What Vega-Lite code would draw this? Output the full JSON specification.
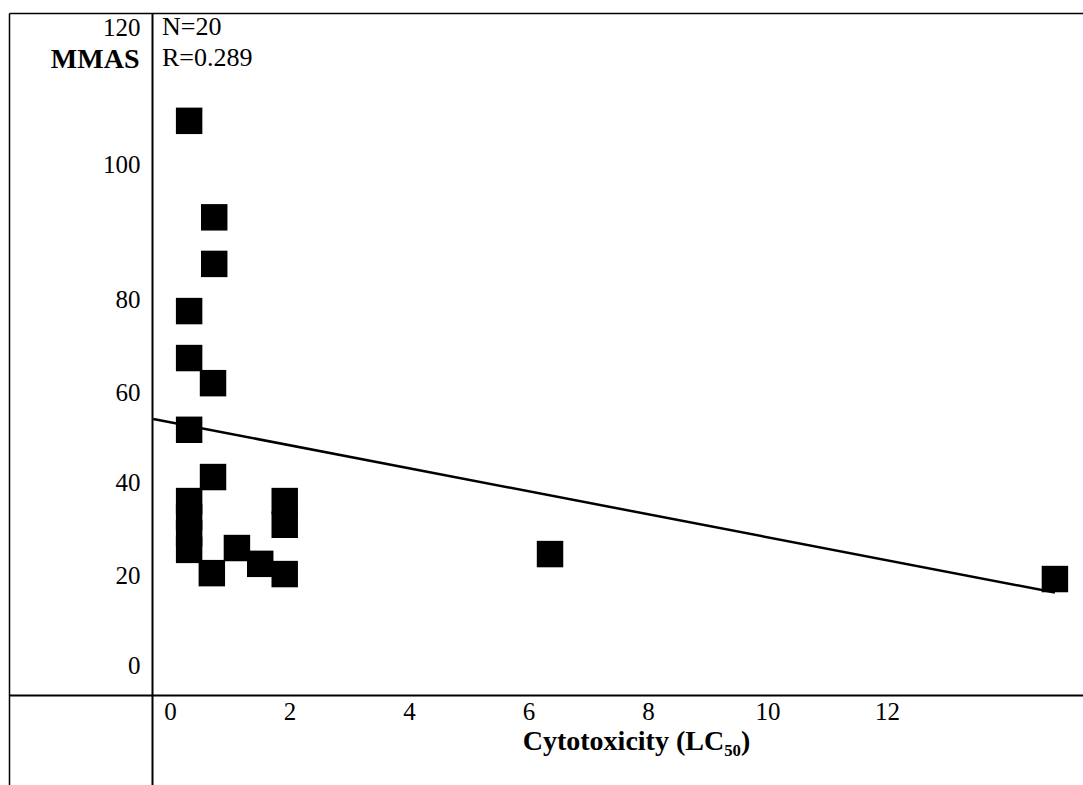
{
  "$schema": "https://vega.github.io/schema/vega-lite/v6.json",
  "width": 1074,
  "height": 772,
  "autosize": {"type": "none"},
  "padding": {"left": 9, "top": 13, "right": 0, "bottom": 0},
  "background": "white",
  "config": {
    "view": {"stroke": null},
    "font": "Liberation Serif",
    "axis": {"domainColor": "black", "labelColor": "black", "titleColor": "black", "grid": false, "ticks": false, "tickSize": 0, "labelFont": "Liberation Serif", "titleFont": "Liberation Serif"}
  },
  "datasets": {
    "points": [
      {"lc50": 0.32, "mmas": 106.3},
      {"lc50": 0.74, "mmas": 92.1},
      {"lc50": 0.74, "mmas": 85.2},
      {"lc50": 0.32, "mmas": 77.4},
      {"lc50": 0.32, "mmas": 67.3},
      {"lc50": 0.72, "mmas": 61.9},
      {"lc50": 0.32, "mmas": 51.6},
      {"lc50": 0.72, "mmas": 41.1},
      {"lc50": 0.32, "mmas": 35.9},
      {"lc50": 0.32, "mmas": 32.5},
      {"lc50": 0.32, "mmas": 29.0},
      {"lc50": 0.32, "mmas": 25.4},
      {"lc50": 0.70, "mmas": 20.4},
      {"lc50": 1.12, "mmas": 25.8},
      {"lc50": 1.51, "mmas": 22.4},
      {"lc50": 1.92, "mmas": 20.2},
      {"lc50": 1.92, "mmas": 35.9},
      {"lc50": 1.92, "mmas": 30.8},
      {"lc50": 6.36, "mmas": 24.5},
      {"lc50": 14.81, "mmas": 19.1}
    ],
    "fit": [
      {"lc50": -0.28, "mmas": 54.0},
      {"lc50": 14.81, "mmas": 16.1}
    ]
  },
  "resolve": {"axis": {"x": "independent", "y": "independent"}},
  "layer": [
    {
      "data": {"name": "fit"},
      "mark": {"type": "line", "color": "black", "strokeWidth": 2.5},
      "encoding": {
        "x": {"field": "lc50", "type": "quantitative",
              "scale": {"domain": [-2.6946, 15.28], "nice": false, "zero": false},
              "axis": {"orient": "top", "labels": false, "title": null, "domainWidth": 1.5}},
        "y": {"field": "mmas", "type": "quantitative",
              "scale": {"domain": [-26.7, 0, 20, 40, 60, 80, 100, 120, 122.04], "range": [772, 652, 562, 469, 379, 286, 151, 14, 0], "nice": false, "zero": false},
              "axis": {"orient": "left", "offset": 0, "labels": false, "title": null, "domainWidth": 1.5}}
      }
    },
    {
      "data": {"name": "points"},
      "mark": {"type": "point", "shape": "square", "filled": true, "size": 700, "color": "black", "opacity": 1},
      "encoding": {
        "x": {"field": "lc50", "type": "quantitative",
              "scale": {"domain": [-2.6946, 15.28], "nice": false, "zero": false},
              "axis": {"orient": "bottom", "offset": -90, "values": [0, 2, 4, 6, 8, 10, 12], "labelFontSize": 25, "labelPadding": 24, "labelBaseline": "alphabetic", "labelFlush": false, "labelOverlap": false, "domainWidth": 2,
                       "title": "Cytotoxicity (LC₅₀)", "titleFontSize": 28, "titleFontWeight": "bold", "titleX": 627, "titleY": 54, "titleAlign": "center", "titleBaseline": "alphabetic"}},
        "y": {"field": "mmas", "type": "quantitative",
              "scale": {"domain": [-26.7, 0, 20, 40, 60, 80, 100, 120, 122.04], "range": [772, 652, 562, 469, 379, 286, 151, 14, 0], "nice": false, "zero": false},
              "axis": {"orient": "left", "offset": -143, "values": [0, 20, 40, 60, 80, 100, 120], "labelFontSize": 25, "labelPadding": 12, "labelOverlap": false, "domainWidth": 2,
                       "title": "MMAS", "titleAngle": 0, "titleAlign": "right", "titleBaseline": "middle", "titleX": -13, "titleY": 46, "titleFontSize": 28, "titleFontWeight": "bold"}}
      }
    },
    {
      "data": {"values": [{}]},
      "mark": {"type": "text", "align": "left", "baseline": "middle", "fontSize": 26, "font": "Liberation Serif", "color": "black", "text": "N=20"},
      "encoding": {
        "x": {"datum": -0.134, "type": "quantitative", "scale": {"domain": [-2.6946, 15.28], "nice": false, "zero": false}, "axis": null},
        "y": {"datum": 120, "type": "quantitative", "scale": {"domain": [-26.7, 0, 20, 40, 60, 80, 100, 120, 122.04], "range": [772, 652, 562, 469, 379, 286, 151, 14, 0], "nice": false, "zero": false}, "axis": null}
      }
    },
    {
      "data": {"values": [{}]},
      "mark": {"type": "text", "align": "left", "baseline": "middle", "fontSize": 26, "font": "Liberation Serif", "color": "black", "text": "R=0.289"},
      "encoding": {
        "x": {"datum": -0.134, "type": "quantitative", "scale": {"domain": [-2.6946, 15.28], "nice": false, "zero": false}, "axis": null},
        "y": {"datum": 115.5, "type": "quantitative", "scale": {"domain": [-26.7, 0, 20, 40, 60, 80, 100, 120, 122.04], "range": [772, 652, 562, 469, 379, 286, 151, 14, 0], "nice": false, "zero": false}, "axis": null}
      }
    }
  ]
}
